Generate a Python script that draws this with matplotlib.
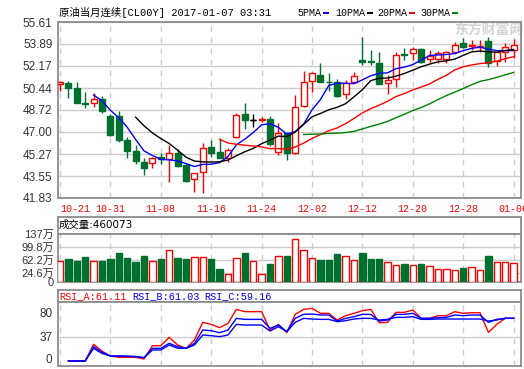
import numpy as np
import pandas as pd
import matplotlib
matplotlib.use('Agg')
import matplotlib.pyplot as plt
from matplotlib.patches import Rectangle

# ---- data ----
tick_pos = [0, 6, 12, 18, 24, 30, 36, 42, 48, 54]
tick_labels = ['10-21', '10-31', '11-08', '11-16', '11-24', '12-02', '12-12', '12-20', '12-28', '01-06']

opens = [50.73, 50.86, 50.44, 49.25, 49.24, 49.58, 48.25, 48.25, 46.37, 45.53, 44.65, 44.55, 45.01, 44.90,
         45.33, 44.39, 43.29, 43.84, 45.80, 45.45, 44.98, 46.63, 48.41, 47.94, 47.96, 48.01, 45.45, 46.89,
         45.33, 49.06, 51.01, 51.46, 50.91, 50.89, 49.95, 50.93, 52.63, 52.52, 52.38, 50.81, 51.15, 53.10,
         53.16, 53.47, 52.75, 52.71, 52.75, 53.28, 53.94, 53.72, 53.66, 54.12, 52.58, 53.28, 53.42]
highs = [50.96, 50.99, 50.91, 50.13, 50.03, 49.82, 48.41, 48.66, 46.58, 45.95, 44.94, 45.01, 45.37, 45.98,
         45.64, 44.55, 43.80, 46.16, 46.37, 46.55, 45.72, 48.46, 49.27, 48.38, 48.19, 48.27, 47.68, 47.02,
         49.89, 51.80, 51.72, 52.38, 51.59, 51.15, 51.07, 51.67, 54.46, 53.42, 53.28, 51.46, 53.28, 53.55,
         53.68, 53.60, 53.42, 53.34, 53.37, 54.07, 54.33, 54.20, 54.20, 54.46, 53.42, 53.94, 54.25]
lows = [50.23, 49.64, 49.24, 48.90, 48.98, 48.46, 46.68, 46.24, 44.94, 44.49, 43.63, 44.20, 44.47, 43.10,
        44.25, 43.10, 42.27, 42.24, 45.06, 44.94, 44.62, 46.50, 47.23, 47.41, 47.76, 45.92, 45.19, 44.80,
        45.30, 48.98, 50.15, 50.90, 50.21, 49.76, 49.58, 50.90, 52.22, 52.24, 50.72, 49.95, 50.54, 52.63,
        52.63, 52.38, 52.38, 52.38, 52.40, 53.16, 53.55, 53.42, 53.28, 52.11, 52.19, 52.50, 52.81]
closes = [50.93, 50.47, 49.29, 49.22, 49.56, 48.66, 46.76, 46.37, 45.53, 44.75, 44.20, 44.94, 44.86, 45.33,
          44.33, 43.18, 43.76, 45.72, 45.37, 44.98, 45.56, 48.33, 47.94, 47.94, 48.00, 46.03, 46.89, 45.33,
          48.93, 50.89, 51.59, 50.93, 50.88, 49.82, 50.86, 51.40, 52.44, 52.49, 50.75, 51.07, 53.03, 53.06,
          53.47, 52.50, 52.91, 53.21, 53.24, 53.81, 53.68, 53.78, 53.70, 52.42, 53.28, 53.68, 53.81]

# volume in 万
volumes = [60.9, 66.6, 60.9, 72.3, 60.0, 60.9, 66.6, 83.7, 69.4, 58.0, 75.2, 60.0, 66.6, 91.3, 69.4, 66.6,
           72.3, 72.3, 66.6, 38.0, 23.7, 68.5, 83.7, 60.0, 23.7, 52.3, 75.2, 75.2, 123.7, 92.3, 69.4, 63.7,
           63.7, 80.9, 75.2, 63.7, 83.7, 66.6, 66.6, 57.1, 49.4, 52.3, 49.4, 52.3, 46.6, 38.0, 38.0, 35.2,
           40.9, 43.7, 35.2, 75.2, 58.0, 58.0, 55.1]

nan = np.nan
rsi_a = [nan, -5.2, -5.2, -5.2, 23.8, 12, 3.5, 1.2, 1.2, 1.2, -1.7, 21.4, 21.4, 35.9, 22.6, 16.8, 31.3, 62,
         58.5, 52.8, 60.3, 84.6, 80.6, 80.6, 80.6, 48.7, 58.5, 44, 75.9, 84.6, 86.4, 77.7, 77.7, 66.1, 73.6,
         77.7, 82.3, 84.6, 61.4, 62, 79.4, 79.4, 83.5, 69, 69, 73.6, 73.6, 80.6, 77.7, 78.8, 78.8, 44.6, 58.5,
         69, 69]
rsi_b = [nan, -5.2, -5.2, -5.2, 19.7, 10, 3.5, 3.5, 3.0, 2.5, 0.6, 16.8, 16.8, 25.5, 19.7, 16.8, 25.5, 48.7,
         47.5, 44, 48.7, 69, 67.2, 67.2, 67.2, 51.6, 57.4, 45.8, 69, 75.9, 76.5, 74.8, 74.8, 64.3, 69, 71.9,
         75.9, 75.9, 64.3, 66.1, 75.9, 75.9, 77.7, 69, 69, 70.1, 70.7, 74.8, 73.6, 74.8, 74.8, 62, 67.2, 69, 69]
rsi_c = [nan, -5.2, -5.2, -5.2, 16.8, 8, 3.5, 3.5, 3.0, 2.5, 0.6, 13.9, 13.9, 22.6, 17, 16.8, 22.6, 40,
         38.8, 37.1, 40, 58.5, 57.4, 57.4, 57.4, 47, 54.5, 45.8, 62, 69, 67.8, 67.2, 67.2, 63.2, 64.9, 67.8,
         69, 69, 66.1, 67.2, 70.7, 70.7, 71.9, 67.2, 67.2, 67.8, 67.8, 67.8, 67.8, 67.8, 67.8, 64.3, 66.1,
         69, 69]

price_ticks = [41.83, 43.55, 45.27, 47.00, 48.72, 50.44, 52.17, 53.89, 55.61]
vol_ticks = [0, 24.6, 62.2, 99.8, 137]
vol_tick_labels = ['0', '24.6万', '62.2万', '99.8万', '137万']
rsi_ticks = [0, 37, 80]
ma_periods = [5, 10, 20, 30]
ma_labels = ['5PMA', '10PMA', '20PMA', '30PMA']
ma_colors = ['#0000ff', '#000000', '#ff0000', '#008000']

# ---- styling ----
W, H = 524, 369
UP = '#ff0000'
DOWN = '#00702f'
GRID = '#cccccc'
FRAME = '#8c8c8c'
TXT = '#333333'
NUM = ['Liberation Sans', 'Noto Sans CJK SC']
MONO = ['Liberation Mono', 'Noto Sans CJK SC']


def box(x0, y0, x1, y1):
    return [x0 / W, 1 - y1 / H, (x1 - x0) / W, (y1 - y0) / H]


fig = plt.figure(figsize=(W / 100, H / 100), dpi=100)
ax = fig.add_axes(box(58, 22, 521, 198))
vh = fig.add_axes(box(58, 217, 521, 234))
av = fig.add_axes(box(58, 234, 521, 282))
rh = fig.add_axes(box(58, 290, 521, 302))
ar = fig.add_axes(box(58, 302, 521, 366))

x = np.arange(len(closes))
o = np.array(opens)
c = np.array(closes)
hi = np.array(highs)
lo = np.array(lows)
up = c > o
flat = c == o
edge = np.where(flat, '#000000', np.where(up, UP, DOWN))
face = np.where(up | flat, 'white', DOWN)

xmin, xmax = -2 / 8.4, 461 / 8.4

for a in (ax, vh, av, rh, ar):
    a.set_xlim(xmin, xmax)
    for s in a.spines.values():
        s.set_color(FRAME)
        s.set_linewidth(1.3)
    a.tick_params(length=0, colors=TXT)

for a in (vh, rh):
    a.set_xticks([])
    a.set_yticks([])

# candles
ax.vlines(x, lo, hi, colors=edge, linewidth=1, zorder=2)
ax.bar(x, np.abs(c - o), bottom=np.minimum(o, c), width=0.7, color=face, edgecolor=edge,
       linewidth=1, zorder=3)
ax.hlines(c[flat], x[flat] - 0.35, x[flat] + 0.35, colors='#000000', linewidth=1, zorder=3)

s = pd.Series(closes)
for n, col in zip(ma_periods, ma_colors):
    ax.plot(x, s.rolling(n).mean(), color=col, linewidth=1, zorder=4)

ax.set_ylim(41.83, 55.61)
ax.set_yticks(price_ticks, ['%.2f' % v for v in price_ticks], family=NUM, fontsize=8.5)
ax.set_xticks(tick_pos, tick_labels, family=MONO, fontsize=7.2)
ax.tick_params(axis='x', colors='red', pad=4)
ax.get_xticklabels()[0].set_ha('left')
ax.tick_params(axis='y', pad=4)
ax.grid(axis='y', color=GRID, linewidth=1, zorder=0)
ax.grid(axis='x', color=GRID, linewidth=1, linestyle=(0, (4, 4)), zorder=0)
ax.set_axisbelow(True)

# watermark
ax.text(454 / W, 1 - 30 / H, '东方财富网', transform=fig.transFigure, family='Noto Sans CJK SC',
        fontsize=10, fontweight='bold', color='#d4d4d4', va='center', ha='left', zorder=1)
ax.text(464 / W, 1 - 42 / H, 'eastmoney.com', transform=fig.transFigure, family='DejaVu Sans',
        fontsize=5, color='#e4e4e4', va='center', ha='left', zorder=1)

# volume
vedge = np.where(c >= o, UP, DOWN)
vface = np.where(c >= o, 'white', DOWN)
av.bar(x, volumes, width=0.74, color=vface, edgecolor=vedge, linewidth=1, zorder=3)
av.set_ylim(0, 137)
av.set_yticks(vol_ticks, vol_tick_labels, family=NUM, fontsize=8)
av.tick_params(axis='y', pad=3)
av.set_xticks(tick_pos)
av.tick_params(axis='x', labelbottom=False)
for v in vol_ticks[1:-1]:
    av.axhline(v, color=GRID, linewidth=1, zorder=0)
av.grid(axis='x', color=GRID, linewidth=1, linestyle=(0, (4, 4)), zorder=0)
av.set_axisbelow(True)

# RSI
ar.plot(x, rsi_a, color='#ff0000', linewidth=1, zorder=3)
ar.plot(x, rsi_b, color='#0000ff', linewidth=1, zorder=3)
ar.plot(x, rsi_c, color='#0000ff', linewidth=1, zorder=3)
ar.set_ylim(-13.9, 97.4)
ar.set_yticks(rsi_ticks, [str(v) for v in rsi_ticks], family=NUM, fontsize=8.5)
ar.tick_params(axis='y', pad=4)
ar.set_xticks(tick_pos)
ar.tick_params(axis='x', labelbottom=False)
ar.axhline(37, color=GRID, linewidth=1, zorder=0)
ar.grid(axis='x', color=GRID, linewidth=1, linestyle=(0, (4, 4)), zorder=0)
ar.set_axisbelow(True)

# header texts
fig.text(59 / W, 1 - 12 / H, '原油当月连续[CL00Y] 2017-01-07 03:31', family=MONO, fontsize=7.5,
         va='center', ha='left')
leg_x = [297, 335, 377, 420]
for lx, lab, col in zip(leg_x, ma_labels, ma_colors):
    fig.text(lx / W, 1 - 13 / H, lab, family=MONO, fontsize=7.2, va='center', ha='left')
    rx = lx + 6 * len(lab) + 2
    fig.patches.append(Rectangle((rx / W, 1 - 14.3 / H), 6 / W, 2.6 / H, transform=fig.transFigure,
                                 facecolor=col, edgecolor='none'))

fig.text(59 / W, 1 - 225 / H, '成交量:460073', family=['DejaVu Sans', 'Noto Sans CJK SC'], fontsize=7.5,
         va='center', ha='left')
rsi_head = [('RSI_A:61.11', '#ff0000', 59), ('RSI_B:61.03', '#0000ff', 132), ('RSI_C:59.16', '#0000ff', 204)]
for lab, col, lx in rsi_head:
    fig.text(lx / W, 1 - 296.5 / H, lab, family=MONO, fontsize=7.3, color=col, va='center', ha='left')

fig.savefig('out.png', dpi=100)
